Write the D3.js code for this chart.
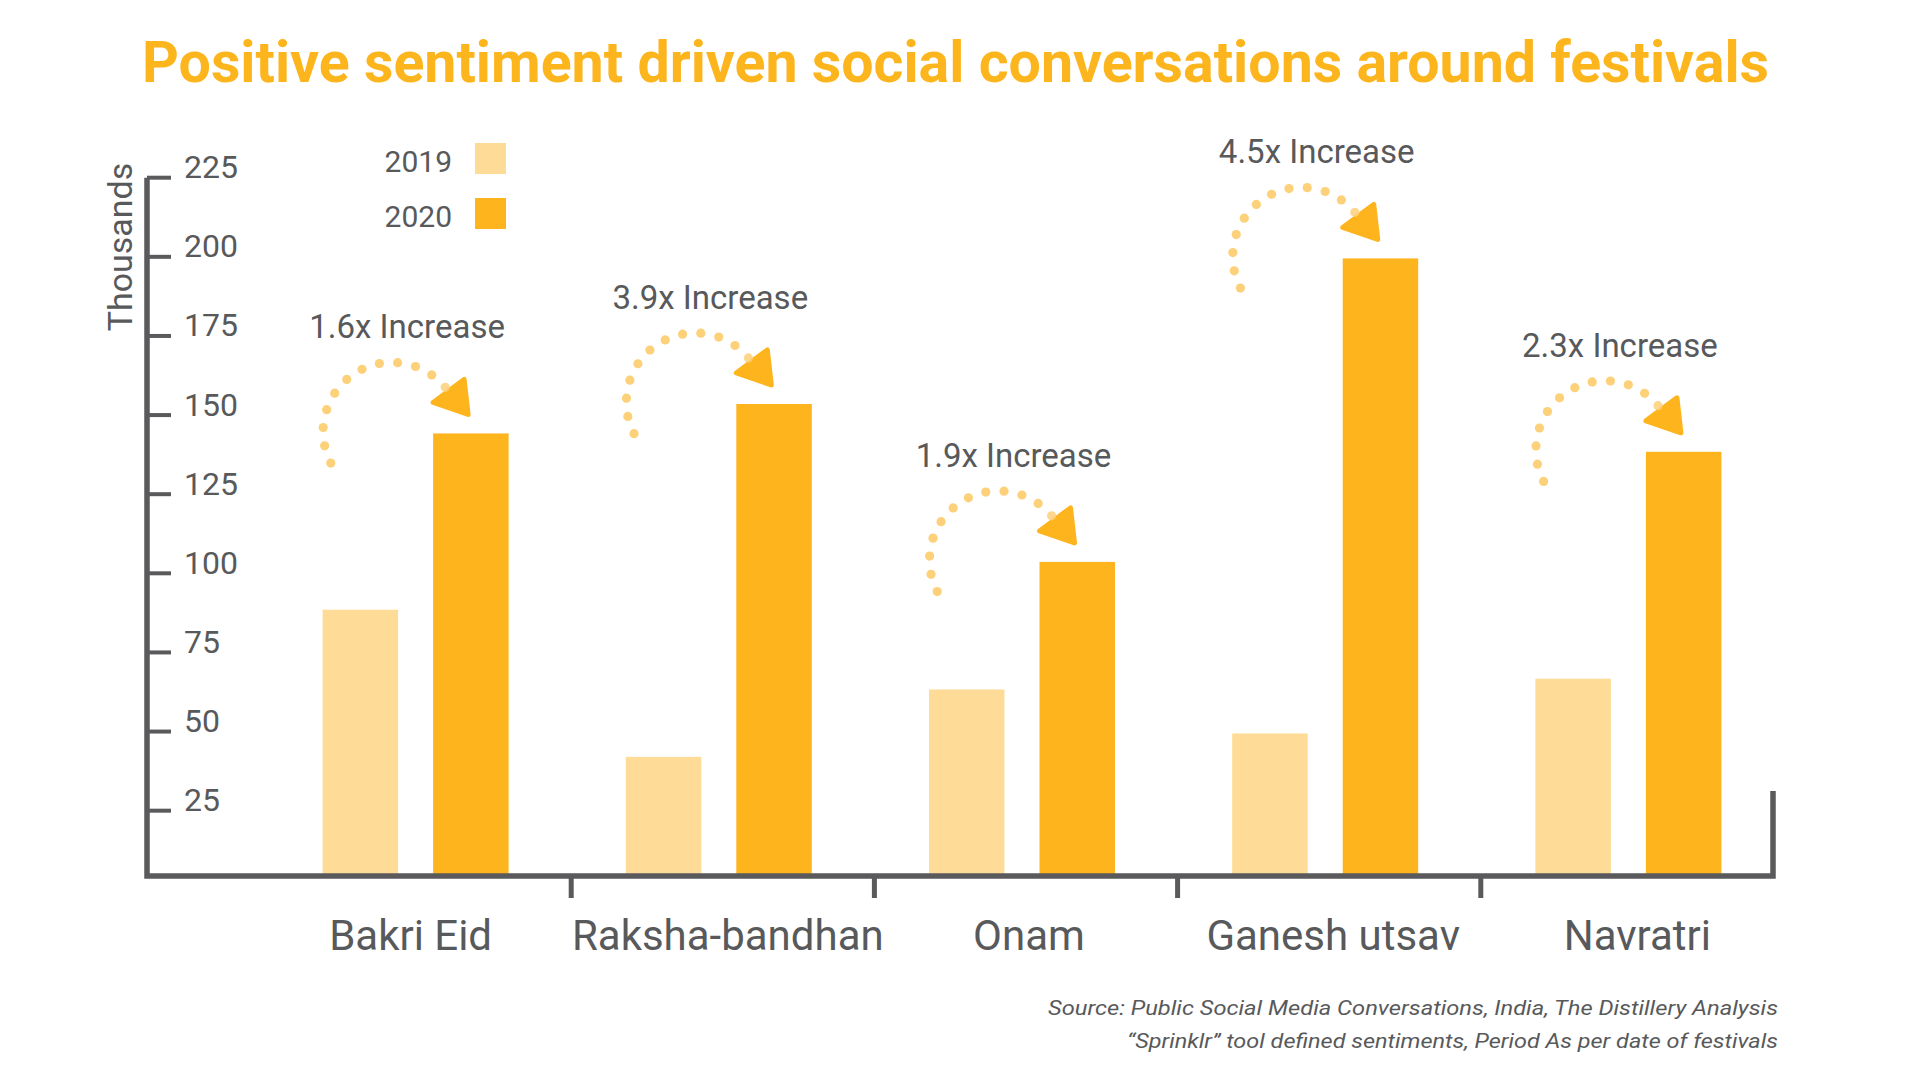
<!DOCTYPE html>
<html>
<head>
<meta charset="utf-8">
<script src="https://cdn.jsdelivr.net/npm/d3@7/dist/d3.min.js"></script>
<style>
  html, body { margin: 0; padding: 0; background: #ffffff; }
  svg { display: block; }
  text { font-family: Roboto, "Noto Sans", sans-serif; }
</style>
</head>
<body>
<svg id="chart" width="1920" height="1080"></svg>
<script>
// ---------------- data ----------------
const categories = ["Bakri Eid", "Raksha-bandhan", "Onam", "Ganesh utsav", "Navratri"];
const series = ["2019", "2020"];
const values2019 = [88.5, 42.0, 63.3, 49.4, 66.7];
const values2020 = [144.2, 153.5, 103.6, 199.5, 138.4];
const increaseLabels = ["1.6x Increase", "3.9x Increase", "1.9x Increase", "4.5x Increase", "2.3x Increase"];
const yTicks = [25, 50, 75, 100, 125, 150, 175, 200, 225];
const titleText = "Positive sentiment driven social conversations around festivals";
const yAxisTitle = "Thousands";
const sourceLines = [
  "Source: Public Social Media Conversations, India, The Distillery Analysis",
  "\u201CSprinklr\u201D tool defined sentiments, Period As per date of festivals"
];

// ---------------- style ----------------
const C = {
  light: "#FEDC97",
  dark: "#FDB41D",
  dots: "#FDD07A",
  text: "#58595B",
  axis: "#5A5A5C",
  title: "#FDB51E"
};
const seriesColor = { "2019": C.light, "2020": C.dark };

const svg = d3.select("#chart");

// ---------------- scales ----------------
const axisX = 147, axisY = 876, axisRight = 1773;
const y = d3.scaleLinear().domain([0, 225]).range([889.8, 177.7]);
const x = d3.scaleBand().domain(categories).range([264, 1780]).padding(0);
const xInner = d3.scaleBand().domain(series).range([-93, 93]).paddingInner(0.317).paddingOuter(0);

const rows = categories.map((c, i) => ({ cat: c, "2019": values2019[i], "2020": values2020[i], label: increaseLabels[i] }));

// ---------------- title ----------------
const title = svg.append("text")
  .attr("x", 955.5).attr("y", 81.7)
  .attr("text-anchor", "middle")
  .attr("fill", C.title)
  .style("font-weight", 700)
  .style("font-size", "57px")
  .text(titleText);
{
  const w = title.node().getComputedTextLength();
  const target = 1627;
  if (Math.abs(w - target) > 2) title.attr("textLength", target).attr("lengthAdjust", "spacingAndGlyphs");
}

// ---------------- bars ----------------
const groups = svg.append("g").selectAll("g.grp").data(rows).join("g")
  .attr("class", "grp")
  .attr("transform", d => `translate(${x(d.cat) + x.bandwidth() / 2},0)`);

groups.selectAll("rect").data(d => series.map(s => ({ s, v: d[s] }))).join("rect")
  .attr("x", d => xInner(d.s))
  .attr("width", xInner.bandwidth())
  .attr("y", d => y(d.v))
  .attr("height", d => axisY - y(d.v))
  .attr("fill", d => seriesColor[d.s]);

// ---------------- annotations ----------------
const nDots = 12, arcR = 69, a0 = 152.7, a1 = 320.3;
const dotAngles = d3.range(nDots).map(k => (a0 + (a1 - a0) * k / (nDots - 1)) * Math.PI / 180);

const ann = svg.append("g").selectAll("g.ann").data(rows).join("g")
  .attr("class", "ann")
  .attr("transform", d => `translate(${x(d.cat) + x.bandwidth() / 2 + xInner("2020")},${y(d["2020"])})`);

ann.append("text")
  .attr("x", -26).attr("y", -95)
  .attr("text-anchor", "middle")
  .attr("fill", C.text)
  .style("font-size", "33px")
  .text(d => d.label);

ann.append("path")
  .attr("d", "M0,-31 L31,-54 L35,-19 Z")
  .attr("fill", C.dark)
  .attr("stroke", C.dark)
  .attr("stroke-width", 5)
  .attr("stroke-linejoin", "round");

ann.selectAll("circle").data(dotAngles).join("circle")
  .attr("cx", a => -41 + arcR * Math.cos(a))
  .attr("cy", a => -2 + arcR * Math.sin(a))
  .attr("r", 4.6)
  .attr("fill", C.dots)
  .attr("fill-opacity", (a, k) => k === nDots - 1 ? 0.85 : 1);

// ---------------- axes ----------------
svg.append("path")
  .attr("d", `M${axisX},${y(225)} V${axisY} H${axisRight} V791`)
  .attr("fill", "none")
  .attr("stroke", C.axis)
  .attr("stroke-width", 5.5)
  .attr("stroke-linejoin", "miter")
  .attr("stroke-linecap", "butt");

const yAxis = svg.append("g");
yAxis.selectAll("line").data(yTicks).join("line")
  .attr("x1", axisX).attr("x2", axisX + 24)
  .attr("y1", d => y(d)).attr("y2", d => y(d))
  .attr("stroke", C.axis).attr("stroke-width", 4);
yAxis.selectAll("text").data(yTicks).join("text")
  .attr("x", 184).attr("y", d => y(d) + 0.5)
  .attr("fill", C.text)
  .style("font-size", "32px")
  .text(d => d);

svg.append("text")
  .attr("transform", `translate(131.5,247) rotate(-90)`)
  .attr("text-anchor", "middle")
  .attr("fill", C.text)
  .style("font-size", "34px")
  .text(yAxisTitle);

// x ticks at band boundaries
const boundaries = categories.slice(1).map(c => x(c) + 4);
svg.append("g").selectAll("line").data(boundaries).join("line")
  .attr("x1", d => d).attr("x2", d => d)
  .attr("y1", axisY).attr("y2", 898)
  .attr("stroke", C.axis).attr("stroke-width", 5);

const labelShift = [-5, 9, 7, 8, 9];
svg.append("g").selectAll("text").data(categories).join("text")
  .attr("x", (d, i) => x(d) + x.bandwidth() / 2 + labelShift[i])
  .attr("y", 950)
  .attr("text-anchor", "middle")
  .attr("fill", C.text)
  .style("font-size", "42px")
  .text(d => d);

// ---------------- legend ----------------
const legend = svg.append("g").selectAll("g").data(series).join("g")
  .attr("transform", (d, i) => `translate(0,${i * 55})`);
legend.append("rect")
  .attr("x", 475).attr("y", 143).attr("width", 31).attr("height", 31)
  .attr("fill", d => seriesColor[d]);
legend.append("text")
  .attr("x", 452).attr("y", 171.5)
  .attr("text-anchor", "end")
  .attr("fill", C.text)
  .style("font-size", "30px")
  .text(d => d);

// ---------------- source ----------------
const srcTargets = [730, 651];
svg.append("g").selectAll("text").data(sourceLines).join("text")
  .attr("x", 1778).attr("y", (d, i) => 1015 + i * 33)
  .attr("text-anchor", "end")
  .attr("fill", C.text)
  .style("font-size", "21px")
  .style("font-style", "italic")
  .text(d => d)
  .each(function (d, i) {
    const w = this.getComputedTextLength();
    if (Math.abs(w - srcTargets[i]) > 3) d3.select(this).attr("textLength", srcTargets[i]).attr("lengthAdjust", "spacingAndGlyphs");
  });
</script>
</body>
</html>
